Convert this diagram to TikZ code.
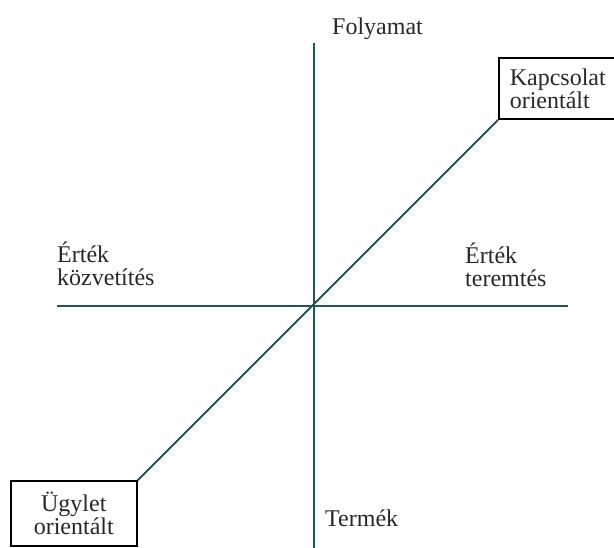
\documentclass[tikz,border=0pt]{standalone}
\usepackage{fontspec}
\setmainfont{Liberation Serif}
\usetikzlibrary{positioning}
\definecolor{axisteal}{RGB}{28,88,84}
\definecolor{labelgray}{RGB}{40,40,40}

\begin{document}
\begin{tikzpicture}[
  x=1pt, y=1pt,
  axis/.style={draw=axisteal, line width=1.9pt},
  lbl/.style={text=labelgray, font=\fontsize{24}{23}\selectfont, inner sep=0pt, align=left},
  box/.style={draw=black, line width=1.6pt, fill=white, text=labelgray, font=\fontsize{24}{23}\selectfont}
]
\clip (0,0) rectangle (614,548);
\coordinate (top) at (314,505);
\coordinate (bot) at (314,-2);
\coordinate (lft) at (57,242);
\coordinate (rgt) at (568,242);
\node[box, anchor=south west, minimum height=61pt, text width=112pt, inner xsep=11pt, align=left] (kapcs) at (498,428) {Kapcsolat\\orientált};
\node[box, anchor=south west, minimum width=126pt, minimum height=65pt, align=center] (ugylet) at (10,1) {Ügylet\\orientált};
\node[lbl, anchor=base west] (folyamat) at (332,513) {Folyamat};
\node[lbl, anchor=base west] (termek) at (325,21) {Termék};
\node[lbl, anchor=north west] (kozvetites) at (57,306) {Érték\\közvetítés};
\node[lbl, anchor=north west] (teremtes) at (465,305) {Érték\\teremtés};
\draw[axis] (top) -- (bot);
\draw[axis] (lft) -- (rgt);
\draw[axis] (ugylet.north east) -- (kapcs.south west);
\end{tikzpicture}
\end{document}
